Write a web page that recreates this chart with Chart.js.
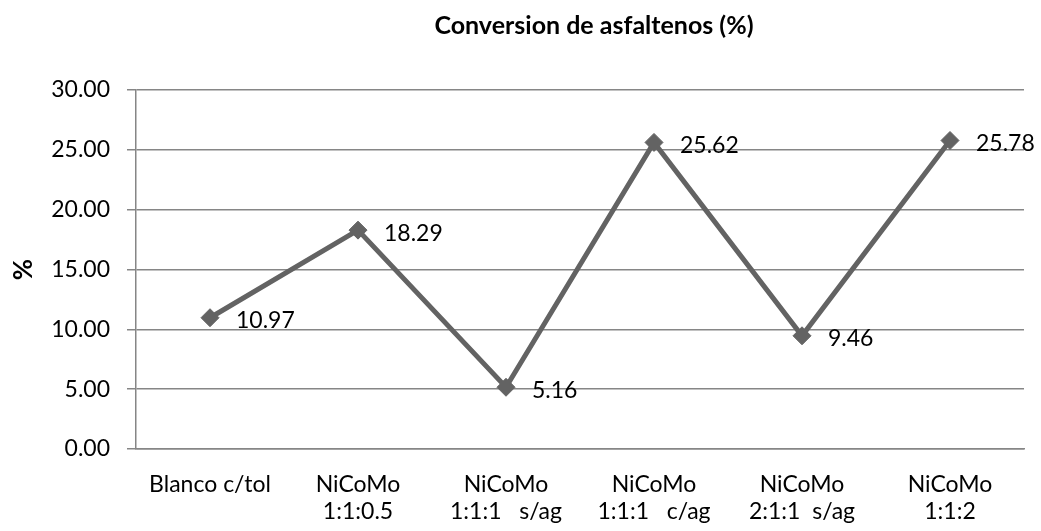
<!DOCTYPE html>
<html>
<head>
<meta charset="utf-8">
<script src="https://cdn.jsdelivr.net/npm/chart.js@4/dist/chart.umd.min.js"></script>
<style>
html,body{margin:0;padding:0;background:#fff;}
#wrap{width:1041px;height:531px;position:relative;}
</style>
</head>
<body>
<div id="wrap"><canvas id="c" width="1041" height="531"></canvas></div>
<script>
const chartTitle = 'Conversion de asfaltenos (%)';
const yAxisTitle = '%';
const categories = [
  ['Blanco c/tol'],
  ['NiCoMo', '1:1:0.5'],
  ['NiCoMo', '1:1:1   s/ag'],
  ['NiCoMo', '1:1:1   c/ag'],
  ['NiCoMo', '2:1:1  s/ag'],
  ['NiCoMo', '1:1:2']
];
const conversion = [10.97, 18.29, 5.16, 25.62, 9.46, 25.78];
const yMin = 0, yMax = 30, yStep = 5;

const FONT = 'Lato, "Open Sans", sans-serif';

const titlePlugin = {
  id: 'centeredTitle',
  afterDraw(chart) {
    const ctx = chart.ctx, a = chart.chartArea;
    ctx.save();
    ctx.font = 'bold 25px ' + FONT;
    ctx.fillStyle = '#000';
    ctx.textAlign = 'center';
    ctx.textBaseline = 'middle';
    ctx.fillText(chartTitle, (a.left + a.right) / 2 + 14, 26);
    ctx.restore();
  }
};

const valueLabels = {
  id: 'valueLabels',
  afterDatasetsDraw(chart) {
    const ctx = chart.ctx;
    const meta = chart.getDatasetMeta(0);
    ctx.save();
    ctx.font = '23px ' + FONT;
    ctx.fillStyle = '#000';
    ctx.textAlign = 'left';
    ctx.textBaseline = 'middle';
    meta.data.forEach((pt, i) => {
      const v = chart.data.datasets[0].data[i];
      ctx.fillText(v.toFixed(2), pt.x + 26, pt.y + 3);
    });
    ctx.restore();
  }
};

new Chart(document.getElementById('c'), {
  type: 'line',
  data: {
    labels: categories,
    datasets: [{
      data: conversion,
      borderColor: '#636363',
      backgroundColor: '#636363',
      borderWidth: 5,
      pointStyle: 'rectRot',
      pointRadius: 9,
      pointHoverRadius: 9,
      pointBorderWidth: 1,
      tension: 0
    }]
  },
  options: {
    responsive: false,
    animation: false,
    layout: { padding: { top: 90, right: 17, left: 8, bottom: 0 } },
    plugins: { legend: { display: false }, title: { display: false }, tooltip: { enabled: false } },
    scales: {
      x: {
        offset: true,
        grid: { display: false, drawTicks: false },
        border: { display: true, color: '#868686', width: 1.5 },
        ticks: { color: '#000', font: { family: FONT, size: 23, lineHeight: 1.17 }, padding: 22, maxRotation: 0, autoSkip: false },
        afterFit(s) { s.height = 82; }
      },
      y: {
        min: yMin, max: yMax,
        grid: { color: '#868686', lineWidth: 1.5, tickLength: 9, drawTicks: true },
        border: { display: true, color: '#868686', width: 1.5 },
        ticks: { stepSize: yStep, color: '#000', font: { family: FONT, size: 23 }, padding: 17,
                 callback: v => Number(v).toFixed(2) },
        title: { display: true, text: yAxisTitle, color: '#000', font: { family: FONT, size: 26, weight: 'bold' }, padding: 0 },
        afterFit(s) { s.width = 128; }
      }
    }
  },
  plugins: [titlePlugin, valueLabels]
});
</script>
</body>
</html>
